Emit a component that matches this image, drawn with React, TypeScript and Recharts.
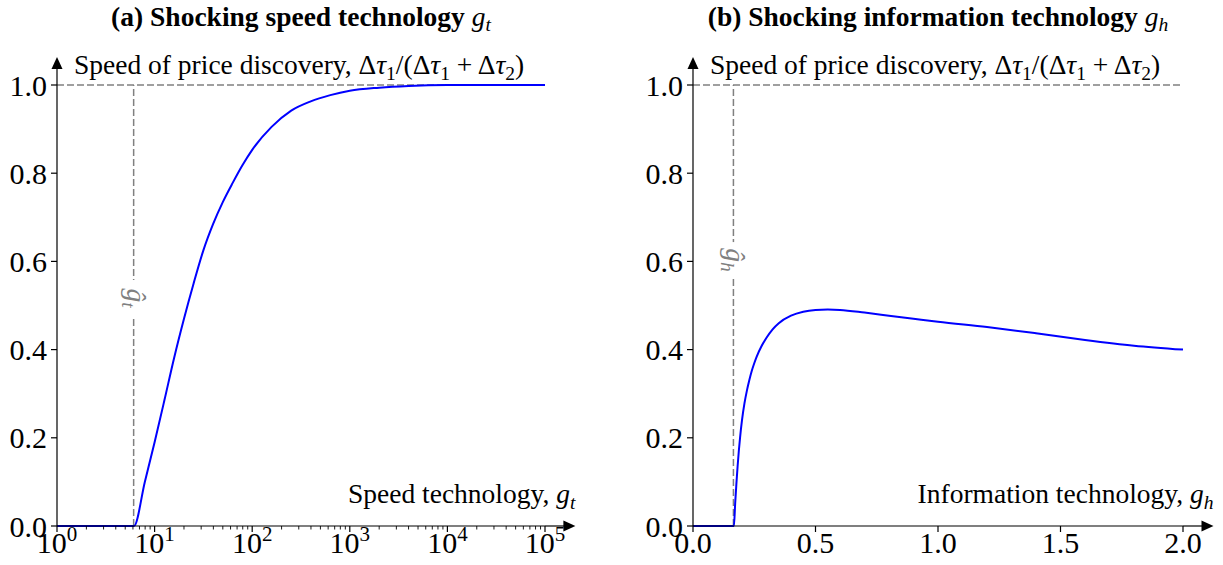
import React from "react";
import { LineChart, Line, XAxis, YAxis, ReferenceLine, ReferenceDot } from "recharts";

const FONT = "'Liberation Serif', 'Times New Roman', serif";
const BLUE = "#0000ff";
const GRAY = "#808080";
const FS = 27.5;
const TICK_FS = 30;
const SUB = 19.5;

// panel (a): speed technology g_t (log axis)
const speedX = [1, 2, 4, 6.15, 7.94, 10, 12.6, 15.8, 20, 25.1, 31.6, 39.8, 50.1, 63.1, 79.4, 100, 158, 251, 398, 631, 1000, 2000, 4000, 10000, 100000];
const speedY = [0, 0, 0, 0, 0.1, 0.19, 0.285, 0.38, 0.47, 0.55, 0.625, 0.685, 0.735, 0.778, 0.818, 0.853, 0.905, 0.942, 0.963, 0.977, 0.987, 0.994, 0.998, 1, 1];
const speedHat = 6.1;
const speedHatLabelY = 0.517;
const decades = [1, 10, 100, 1000, 10000, 100000];
const minorMult = [2, 3, 4, 5, 6, 7, 8, 9];

// panel (b): information technology g_h
const infoX = [0, 0.1, 0.167, 0.172, 0.177, 0.182, 0.187, 0.192, 0.2, 0.21, 0.22, 0.23, 0.24, 0.25, 0.26, 0.28, 0.3, 0.325, 0.35, 0.4, 0.45, 0.5, 0.55, 0.6, 0.7, 0.8, 0.9, 1.0, 1.2, 1.4, 1.6, 1.8, 2.0];
const infoY = [0, 0, 0, 0.05, 0.095, 0.135, 0.17, 0.2, 0.24, 0.278, 0.307, 0.331, 0.352, 0.369, 0.384, 0.408, 0.427, 0.446, 0.46, 0.477, 0.486, 0.49, 0.491, 0.49, 0.484, 0.477, 0.47, 0.463, 0.451, 0.437, 0.422, 0.409, 0.4];
const infoHat = 0.165;
const infoHatLabelY = 0.603;
const infoTicks = [0, 0.5, 1.0, 1.5, 2.0];

const yTicks = [0, 0.2, 0.4, 0.6, 0.8, 1.0];

const speedData = speedX.map((x, i) => ({ x, y: speedY[i] }));
const infoData = infoX.map((x, i) => ({ x, y: infoY[i] }));
const logTicks = [
  ...decades,
  ...decades.slice(0, -1).flatMap((d) => minorMult.map((m) => m * d)),
].sort((a, b) => a - b);

const textProps = { fontFamily: FONT, fontSize: FS, fill: "#000" };
const tickProps = { fontFamily: FONT, fontSize: TICK_FS, fill: "#000" };

function LogTick(props: any) {
  const { x, y, payload } = props;
  const v = payload.value;
  const major = decades.includes(v);
  return (
    <g>
      <line x1={x} x2={x} y1={y} y2={y + (major ? 6 : 3.5)} stroke="#000" strokeWidth={major ? 1.2 : 0.9} />
      {major && (
        <text x={x} y={y + 27} textAnchor="middle" {...tickProps}>
          10
          <tspan dy={-12} fontSize={21}>
            {Math.round(Math.log10(v))}
          </tspan>
        </text>
      )}
    </g>
  );
}

function XDecor(props: any) {
  const vb = props.viewBox || {};
  const { x, y, width } = vb;
  if (x == null) return null;
  const end = x + width * 1.05;
  return (
    <g>
      <line x1={x + width} y1={y} x2={end} y2={y} stroke="#000" strokeWidth={1.2} />
      <path d={`M${end - 6},${y - 5.5} L${end + 6},${y} L${end - 6},${y + 5.5} Z`} fill="#000" />
      <text x={end + 6} y={y - 23} textAnchor="end" {...textProps}>
        {props.label}
        <tspan fontStyle="italic">g</tspan>
        <tspan fontStyle="italic" fontSize={SUB} dy={6}>
          {props.sub}
        </tspan>
      </text>
    </g>
  );
}

function YDecor(props: any) {
  const vb = props.viewBox || {};
  const { x, y, width, height } = vb;
  if (x == null) return null;
  const ax = x + width;
  const top = y - height * 0.05;
  return (
    <g>
      <line x1={ax} y1={y} x2={ax} y2={top} stroke="#000" strokeWidth={1.2} />
      <path d={`M${ax - 5.5},${top + 6} L${ax},${top - 6} L${ax + 5.5},${top + 6} Z`} fill="#000" />
      <text x={ax + 17} y={y - 11} {...textProps}>
        Speed of price discovery, Δ<tspan fontStyle="italic">τ</tspan>
        <tspan fontSize={SUB} dy={6}>1</tspan>
        <tspan dy={-6}>/(Δ</tspan>
        <tspan fontStyle="italic">τ</tspan>
        <tspan fontSize={SUB} dy={6}>1</tspan>
        <tspan dy={-6}> + Δ</tspan>
        <tspan fontStyle="italic">τ</tspan>
        <tspan fontSize={SUB} dy={6}>2</tspan>
        <tspan dy={-6}>)</tspan>
      </text>
    </g>
  );
}

function HatLabel(props: any) {
  const { cx, cy, sub } = props;
  if (cx == null) return null;
  return (
    <g transform={`translate(${cx},${cy}) rotate(90)`}>
      <rect x={-18} y={-11} width={36} height={22} fill="#fff" />
      <text x={0} y={0} dy={7} textAnchor="middle" fontFamily={FONT} fontSize={FS} fill={GRAY} fontStyle="italic">
        ĝ
        <tspan fontSize={SUB} dy={5}>
          {sub}
        </tspan>
      </text>
    </g>
  );
}

function Title({ left, width, tag, text, sub }: any) {
  return (
    <div
      style={{
        position: "absolute",
        left,
        width,
        top: 2,
        textAlign: "center",
        fontFamily: FONT,
        fontSize: FS,
        fontWeight: "bold",
        lineHeight: "30px",
        whiteSpace: "nowrap",
      }}
    >
      ({tag}) {text} <i style={{ fontWeight: "normal" }}>g</i>
      <i style={{ fontWeight: "normal", fontSize: SUB, verticalAlign: "-5px" }}>{sub}</i>
    </div>
  );
}

const fmt1 = (v: number) => v.toFixed(1);

export default function App() {
  return (
    <div style={{ position: "absolute", left: 0, top: 0, width: 1223, height: 565, background: "#fff" }}>
      <Title left={57} width={488} tag="a" text="Shocking speed technology" sub="t" />
      <Title left={693} width={490} tag="b" text="Shocking information technology" sub="h" />

      <div style={{ position: "absolute", left: 0, top: 0 }}>
        <LineChart width={611} height={565} data={speedData} margin={{ top: 85, right: 66, bottom: 0, left: 0 }}>
          <XAxis
            dataKey="x"
            type="number"
            scale="log"
            domain={[1, 100000]}
            ticks={logTicks}
            interval={0}
            height={39}
            tickLine={false}
            tickSize={0}
            tickMargin={0}
            tick={<LogTick />}
            axisLine={{ stroke: "#000", strokeWidth: 1.2 }}
            label={<XDecor label="Speed technology, " sub="t" />}
          />
          <YAxis
            type="number"
            domain={[0, 1]}
            ticks={yTicks}
            width={57}
            tickSize={6}
            tickMargin={4}
            tickFormatter={fmt1}
            tick={tickProps}
            tickLine={{ stroke: "#000", strokeWidth: 1.2 }}
            axisLine={{ stroke: "#000", strokeWidth: 1.2 }}
            label={<YDecor />}
          />
          <ReferenceLine y={1} stroke={GRAY} strokeWidth={1.5} strokeDasharray="7 3" />
          <ReferenceLine x={speedHat} stroke={GRAY} strokeWidth={1.5} strokeDasharray="7 3" />
          <ReferenceDot x={speedHat} y={speedHatLabelY} r={0} shape={(p: any) => <HatLabel {...p} sub="t" />} />
          <Line dataKey="y" type="monotone" stroke={BLUE} strokeWidth={2} dot={false} isAnimationActive={false} />
        </LineChart>
      </div>

      <div style={{ position: "absolute", left: 611, top: 0 }}>
        <LineChart width={612} height={565} data={infoData} margin={{ top: 85, right: 40, bottom: 0, left: 0 }}>
          <XAxis
            dataKey="x"
            type="number"
            domain={[0, 2]}
            ticks={infoTicks}
            interval={0}
            height={39}
            tickSize={6}
            tickMargin={0}
            tickFormatter={fmt1}
            tick={tickProps}
            tickLine={{ stroke: "#000", strokeWidth: 1.2 }}
            axisLine={{ stroke: "#000", strokeWidth: 1.2 }}
            label={<XDecor label="Information technology, " sub="h" />}
          />
          <YAxis
            type="number"
            domain={[0, 1]}
            ticks={yTicks}
            width={82}
            tickSize={6}
            tickMargin={4}
            tickFormatter={fmt1}
            tick={tickProps}
            tickLine={{ stroke: "#000", strokeWidth: 1.2 }}
            axisLine={{ stroke: "#000", strokeWidth: 1.2 }}
            label={<YDecor />}
          />
          <ReferenceLine y={1} stroke={GRAY} strokeWidth={1.5} strokeDasharray="7 3" />
          <ReferenceLine x={infoHat} stroke={GRAY} strokeWidth={1.5} strokeDasharray="7 3" />
          <ReferenceDot x={infoHat} y={infoHatLabelY} r={0} shape={(p: any) => <HatLabel {...p} sub="h" />} />
          <Line dataKey="y" type="monotone" stroke={BLUE} strokeWidth={2} dot={false} isAnimationActive={false} />
        </LineChart>
      </div>
    </div>
  );
}
